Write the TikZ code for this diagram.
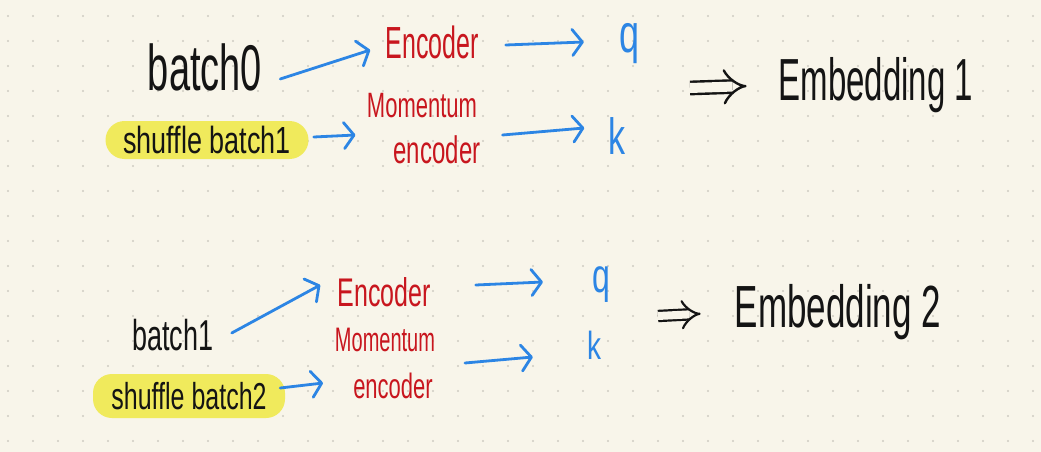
\documentclass[tikz,border=0pt]{standalone}
\usepackage{fontspec}
\setmainfont{Liberation Sans}
\usetikzlibrary{arrows.meta,calc}
\definecolor{bgc}{HTML}{F8F5EA}
\definecolor{dotc}{HTML}{CFCCC2}
\definecolor{inkblue}{HTML}{2C85E4}
\definecolor{inkred}{HTML}{C8161E}
\definecolor{inkblack}{HTML}{141414}
\definecolor{hl}{HTML}{F0EA5C}
\newcommand\tallt[2][1.6]{\scalebox{1}[#1]{#2}}
\tikzset{
  txt/.style={inner sep=0pt, text=inkblack},
  redtxt/.style={inner sep=0pt, text=inkred},
  bluetxt/.style={inner sep=0pt, text=inkblue},
  hlbox/.style={fill=hl, rounded corners=19pt, inner sep=0pt, text=inkblack},
  barrow/.style={draw=inkblue, line width=2.8pt, line cap=round, line join=round,
     -{Straight Barb[length=10pt,width=26pt,round]}},
  impl/.style={draw=inkblack, line width=2.4pt, double=bgc, double distance=10pt,
     -{Implies[length=18pt,width=48pt]}},
  implsmall/.style={draw=inkblack, line width=2.2pt, double=bgc, double distance=8pt,
     -{Implies[length=14pt,width=38pt]}},
}
\begin{document}
\begin{tikzpicture}[x=1pt,y=-1pt]
\fill[bgc] (0,0) rectangle (1041,452);
\useasboundingbox (0,0) rectangle (1041,452);
\foreach \i in {0,...,41}{\foreach \j in {0,...,17}{\fill[dotc] (8+25*\i,16+25*\j) circle (1.1pt);}}

% ---------- top group ----------
\node[txt, font=\fontsize{38}{40}\selectfont] (b0) at (205,67) {\tallt[1.7]{batch0}};
\node[hlbox, minimum width=203pt, minimum height=38pt, font=\fontsize{27}{30}\selectfont] (s1) at (207,140) {\tallt[1.4]{shuffle batch1}};
\node[redtxt, font=\fontsize{25}{28}\selectfont] (e0) at (432,42) {\tallt[1.8]{Encoder}};
\node[redtxt, font=\fontsize{22}{24}\selectfont] (m0) at (422,106) {\tallt{Momentum}};
\node[redtxt, font=\fontsize{24}{26}\selectfont] (ee0) at (437,150) {\tallt[1.6]{encoder}};
\node[bluetxt, font=\fontsize{36}{38}\selectfont] (q0) at (630,44) {\tallt[1.5]{q}};
\node[bluetxt, font=\fontsize{34}{36}\selectfont] (k0) at (617,136) {\tallt[1.5]{k}};
\node[txt, font=\fontsize{33}{36}\selectfont] (emb0) at (876,85) {\tallt[1.8]{Embedding 1}};
\coordinate (i0) at (690,88);

\draw[barrow] ($(b0.east)+(18,12)$) -- ($(e0.west)+(-15,8)$);
\draw[barrow] ($(s1.east)+(5,-3)$) -- ($(ee0.west)+(-38,-15)$);
\draw[barrow] ($(e0.east)+(27,3)$) -- ($(q0.west)+(-36,-2)$);
\draw[barrow] ($(ee0.east)+(22,-15)$) -- ($(k0.west)+(-24,-8)$);
\draw[impl, shorten >=32pt] (i0) -- (emb0.west);

% ---------- bottom group ----------
\node[txt, font=\fontsize{27}{30}\selectfont] (b1) at (173,335) {\tallt[1.6]{batch1}};
\node[hlbox, minimum width=192pt, minimum height=44pt, font=\fontsize{25}{28}\selectfont] (s2) at (189,396) {\tallt[1.5]{shuffle batch2}};
\node[redtxt, font=\fontsize{25}{28}\selectfont] (e1) at (384,292) {\tallt[1.6]{Encoder}};
\node[redtxt, font=\fontsize{20}{22}\selectfont] (m1) at (385,340) {\tallt[1.7]{Momentum}};
\node[redtxt, font=\fontsize{22}{24}\selectfont] (ee1) at (393,386) {\tallt[1.6]{encoder}};
\node[bluetxt, font=\fontsize{32}{34}\selectfont] (q1) at (601,285) {\tallt[1.5]{q}};
\node[bluetxt, font=\fontsize{28}{30}\selectfont] (k1) at (594,345) {\tallt[1.4]{k}};
\node[txt, font=\fontsize{35}{38}\selectfont] (emb1) at (838,312) {\tallt[1.7]{Embedding 2}};
\coordinate (i1) at (658,316);

\draw[barrow] ($(b1.east)+(18,-2)$) -- ($(e1.west)+(-17,-7)$);
\draw[barrow] ($(s2.east)+(-5,-8)$) -- ($(ee1.west)+(-30,-3)$);
\draw[barrow] ($(e1.east)+(45,-7)$) -- ($(q1.west)+(-49,-3)$);
\draw[barrow] ($(ee1.east)+(32,-23)$) -- ($(k1.west)+(-54,12)$);
\draw[implsmall, shorten >=34pt] (i1) -- (emb1.west);
\end{tikzpicture}
\end{document}
